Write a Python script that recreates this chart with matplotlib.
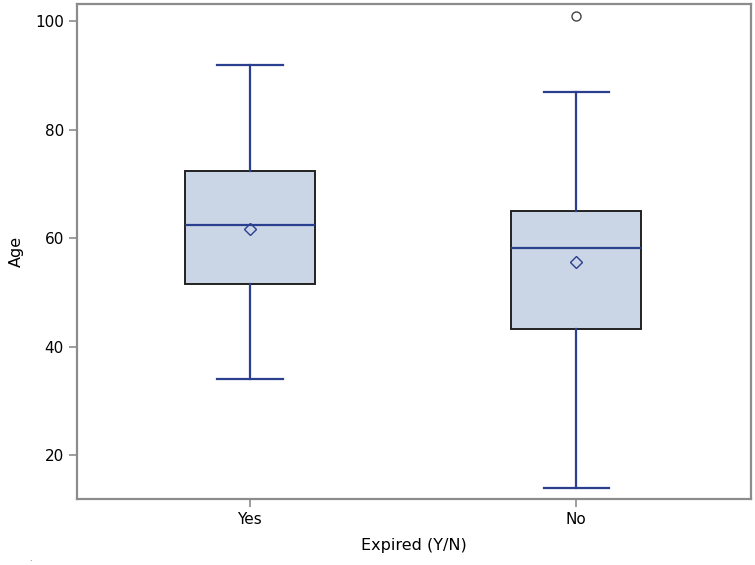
import matplotlib
matplotlib.use("Agg")
import matplotlib.pyplot as plt

categories = ["Yes", "No"]
whislo = [34.0, 14.0]
q1 = [51.5, 43.2]
med = [62.4, 58.2]
q3 = [72.4, 65.0]
whishi = [92.0, 87.0]
means = [61.7, 55.6]
fliers = [[], [101.0]]
yticks = [20, 40, 60, 80, 100]

fig = plt.figure(figsize=(7.55, 5.65), dpi=100)
ax = fig.add_axes([77/755, 1 - 499/565, 674/755, 495/565])

stats = []
for i, c in enumerate(categories):
    stats.append(dict(label=c, whislo=whislo[i], q1=q1[i], med=med[i], q3=q3[i],
                      whishi=whishi[i], mean=means[i], fliers=fliers[i]))

navy = "#2B3F8F"
ax.bxp(stats, positions=[0, 1], widths=0.40, patch_artist=True, showmeans=True,
       boxprops=dict(facecolor="#CAD5E6", edgecolor="#222222", linewidth=1.4),
       medianprops=dict(color=navy, linewidth=1.6),
       whiskerprops=dict(color=navy, linewidth=1.6),
       capprops=dict(color=navy, linewidth=1.6),
       capwidths=0.20,
       meanprops=dict(marker="D", markerfacecolor="none", markeredgecolor=navy,
                      markersize=6.5, markeredgewidth=1.0),
       flierprops=dict(marker="o", markerfacecolor="none", markeredgecolor="#444444",
                       markersize=6.5, markeredgewidth=1.0))

ax.set_xlim(-0.53, 1.536)
ax.set_ylim(11.9, 103.2)
ax.set_yticks(yticks)
ax.set_xticks([0, 1])
ax.set_xticklabels(categories)
for s in ax.spines.values():
    s.set_color("#8C8C8C")
    s.set_linewidth(1.6)
ax.tick_params(axis="both", colors="#8C8C8C", labelcolor="black", labelsize=11, length=6, width=1.2)
ax.set_xlabel("Expired (Y/N)", fontsize=11.5, labelpad=8)
ax.set_ylabel("Age", fontsize=11.5, labelpad=8)
fig.text(29/755, 1 - 561/565, ".", fontsize=6, color="#555555")

fig.savefig("out.png", dpi=100)
